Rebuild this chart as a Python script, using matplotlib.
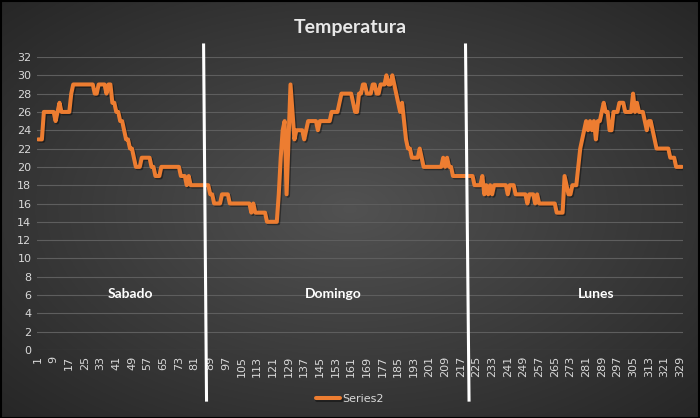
import numpy as np
import matplotlib
matplotlib.use("Agg")
import matplotlib.pyplot as plt
import matplotlib.patheffects as pe
from matplotlib.transforms import blended_transform_factory

# temperature readings, one per sample (1..330)
temperatura = [
    23, 23, 23, 26, 26, 26, 26, 26, 26, 25,
    26, 27, 26, 26, 26, 26, 26, 28, 29, 29,
    29, 29, 29, 29, 29, 29, 29, 29, 29, 28,
    28, 29, 29, 29, 29, 28, 29, 29, 27, 27,
    26, 26, 25, 25, 24, 23, 23, 22, 22, 21,
    20, 20, 20, 21, 21, 21, 21, 21, 20, 20,
    19, 19, 19, 20, 20, 20, 20, 20, 20, 20,
    20, 20, 20, 19, 19, 19, 18, 19, 18, 18,
    18, 18, 18, 18, 18, 18, 18, 18, 17, 17,
    16, 16, 16, 16, 17, 17, 17, 17, 16, 16,
    16, 16, 16, 16, 16, 16, 16, 16, 16, 15,
    16, 15, 15, 15, 15, 15, 15, 14, 14, 14,
    14, 14, 14, 17, 21, 24, 25, 17, 23, 29,
    26, 23, 24, 24, 24, 24, 23, 24, 25, 25,
    25, 25, 25, 24, 25, 25, 25, 25, 25, 25,
    26, 26, 26, 26, 27, 28, 28, 28, 28, 28,
    28, 27, 26, 26, 28, 28, 29, 29, 28, 28,
    28, 29, 29, 28, 28, 29, 29, 29, 30, 29,
    29, 30, 29, 28, 27, 26, 27, 25, 23, 22,
    22, 21, 21, 21, 21, 22, 21, 20, 20, 20,
    20, 20, 20, 20, 20, 20, 20, 21, 20, 21,
    20, 20, 19, 19, 19, 19, 19, 19, 19, 19,
    19, 19, 19, 18, 18, 18, 18, 19, 17, 18,
    17, 18, 17, 18, 18, 18, 18, 18, 18, 18,
    17, 18, 18, 18, 17, 17, 17, 17, 17, 17,
    16, 17, 17, 17, 16, 17, 16, 16, 16, 16,
    16, 16, 16, 16, 16, 15, 15, 15, 15, 19,
    18, 17, 17, 18, 18, 18, 20, 22, 23, 24,
    25, 24, 25, 24, 25, 23, 25, 25, 26, 27,
    26, 26, 24, 24, 26, 26, 26, 27, 27, 27,
    26, 26, 26, 26, 28, 26, 27, 26, 26, 26,
    25, 24, 25, 25, 24, 23, 22, 22, 22, 22,
    22, 22, 22, 21, 21, 21, 20, 20, 20, 20,
]
muestras = np.arange(1, len(temperatura) + 1)
x_ticks = list(range(1, 330, 8))
y_ticks = list(range(0, 33, 2))

dias = ["Sabado", "Domingo", "Lunes"]
dias_x = [48, 152, 286]
# separators between days (top, bottom) in sample units
separadores = [(85.6, 87.1), (219.4, 221.2)]

txt = "#d9d9d9"
fig = plt.figure(figsize=(7, 4.18), dpi=100)

# radial gradient background like the Excel chart style
bg = fig.add_axes([0, 0, 1, 1], zorder=-10)
yy, xx = np.mgrid[-1:1:300j, -1:1:500j]
r = np.sqrt(xx**2 + yy**2) / np.sqrt(2)
shade = 0.32 - 0.17 * r
bg.imshow(np.dstack([shade, shade, shade]), aspect="auto", extent=[0, 1, 0, 1])
bg.set_axis_off()
fig.patches.append(plt.Rectangle((0.001, 0.001), 0.998, 0.996, transform=fig.transFigure,
                                 fill=False, edgecolor="black", lw=1.5))

ax = fig.add_axes([37 / 700, 1 - 350 / 418, 646 / 700, 293 / 418])
ax.set_facecolor("none")
ax.plot(muestras, temperatura, color="#ED7D31", lw=2.9, solid_joinstyle="round",
        solid_capstyle="round", label="Series2",
        path_effects=[pe.SimpleLineShadow(offset=(1, -1), alpha=0.4), pe.Normal()])

ax.set_xlim(0.5, len(temperatura) + 0.5)
ax.set_ylim(0, 32)
ax.set_xticks(x_ticks)
ax.set_xticklabels([str(t) for t in x_ticks], rotation=90, fontsize=8, color=txt)
ax.set_yticks(y_ticks)
ax.set_yticklabels([str(t) for t in y_ticks], fontsize=8, color=txt)
ax.tick_params(length=0, pad=4)
ax.grid(axis="y", color="#5e5e5e", lw=0.8)
ax.set_axisbelow(True)
for s in ax.spines.values():
    s.set_visible(False)

tr = blended_transform_factory(ax.transData, ax.transAxes)
for top, bottom in separadores:
    ax.plot([top, bottom], [1.041, -0.171], color="white", lw=2.2,
            transform=tr, clip_on=False, zorder=5)

for d, x in zip(dias, dias_x):
    ax.text(x, 6.1, d, color="white", fontsize=10, fontweight="bold",
            ha="center", va="center", family="Lato")

fig.text(0.5, 1 - 28 / 418, "Temperatura", color="#e8e8e8", fontsize=14,
         fontweight="bold", ha="center", va="center", family="Lato")

leg = ax.legend(loc="center", bbox_to_anchor=(0.5, 1 - 399 / 418),
                bbox_transform=fig.transFigure, frameon=False, fontsize=8,
                handlelength=2.2, handletextpad=0.2)
for t in leg.get_texts():
    t.set_color(txt)

fig.savefig("out.png", dpi=100)
